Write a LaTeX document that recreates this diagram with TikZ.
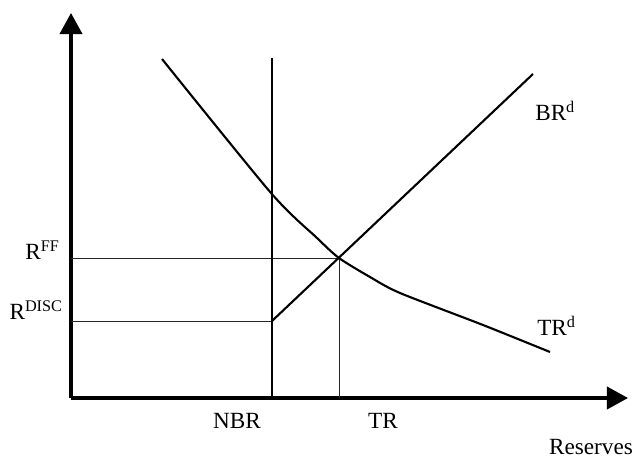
\documentclass[tikz,border=0pt]{standalone}
\usepackage{fontspec}
\setmainfont{Liberation Serif}
\usetikzlibrary{arrows.meta}
\tikzset{
  px/.style={x={(0.025cm,0cm)}, y={(0cm,-0.025cm)}},
  axis/.style={black, line width=2.2pt, -{Triangle[length=5.3mm,width=5.6mm]}},
  supply/.style={black, line width=1.5pt},
  demand/.style={black, line width=1.5pt},
  guide/.style={black!85, line width=0.6pt},
  lbl/.style={font=\fontsize{16.5}{19}\selectfont, inner sep=0pt},
}

\begin{document}
\begin{tikzpicture}[px]
  \useasboundingbox (0,0) rectangle (640,459);
  % axes
  \coordinate (O) at (71,398);
  \coordinate (ytip) at (71,13);
  \coordinate (xtip) at (628,398);
  \draw[axis] (O)--(ytip);
  \draw[axis] (O)--(xtip);
  % key points
  \coordinate (nbrtop) at (272,58);
  \coordinate (nbr) at (272,398);
  \coordinate (kink) at (272,321);
  \coordinate (eq) at (339,258);
  \coordinate (tr) at (339,398);
  \coordinate (brtop) at (533,74);
  \coordinate (rff) at (71,258);
  \coordinate (rdisc) at (71,321);
  % guide lines
  \draw[guide] (rff)--(eq)--(tr);
  \draw[guide] (rdisc)--(kink);
  % nonborrowed reserves and borrowed reserves supply
  \draw[supply] (nbrtop)--(nbr);
  \draw[supply] (kink)--(brtop);
  % demand for total reserves
  \draw[demand] plot[smooth, tension=0.45] coordinates
    {(162,59) (271,193) (317,238) (eq) (370,277) (400,293) (483,325) (550,352)};
  % labels
  \node[lbl, anchor=base east] (lrff) at (60,260) {R\textsuperscript{FF}};
  \node[lbl, anchor=base east] (lrdisc) at (63,320) {R\textsuperscript{DISC}};
  \node[lbl, anchor=base] (lnbr) at (237,429) {NBR};
  \node[lbl, anchor=base] (ltr) at (383,429) {TR};
  \node[lbl, anchor=base] (lres) at (591,454) {Reserves};
  \node[lbl, anchor=base west] (lbr) at (535,121) {BR\textsuperscript{d}};
  \node[lbl, anchor=base west] (ltrd) at (537,336) {TR\textsuperscript{d}};
\end{tikzpicture}
\end{document}
